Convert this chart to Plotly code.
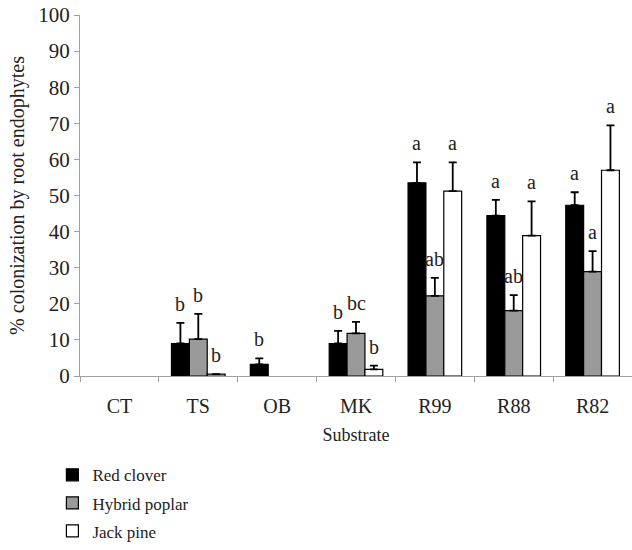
import plotly.graph_objects as go

categories = ["CT", "TS", "OB", "MK", "R99", "R88", "R82"]
series_names = ["Red clover", "Hybrid poplar", "Jack pine"]

red_clover = [None, 9.0, 3.2, 9.0, 53.5, 44.4, 47.3]
red_clover_err = [0, 5.7, 1.7, 3.5, 5.7, 4.4, 3.6]
hybrid_poplar = [None, 10.2, None, 11.8, 22.2, 18.1, 28.9]
hybrid_poplar_err = [0, 7.0, 0, 3.2, 5.0, 4.3, 5.7]
jack_pine = [None, 0.5, None, 1.85, 51.2, 38.9, 57.0]
jack_pine_err = [0, 0, 0, 1.0, 8.0, 9.5, 12.4]

red_clover_letters = ["", "b", "b", "b", "a", "a", "a"]
hybrid_poplar_letters = ["", "b", "", "bc", "ab", "ab", "a"]
jack_pine_letters = ["", "b", "", "b", "a", "a", "a"]

yticks = [0, 10, 20, 30, 40, 50, 60, 70, 80, 90, 100]

FONT = "Liberation Serif, Times New Roman, serif"
TXT = "#222222"
fills = ["#000000", "#9a9a9a", "#ffffff"]

vals = [red_clover, hybrid_poplar, jack_pine]
errs = [red_clover_err, hybrid_poplar_err, jack_pine_err]
letters = [red_clover_letters, hybrid_poplar_letters, jack_pine_letters]

fig = go.Figure()
for i in range(3):
    fig.add_trace(go.Bar(
        x=categories, y=vals[i], name=series_names[i],
        legendgroup=series_names[i],
        marker=dict(color=fills[i], line=dict(color="#000000", width=1.2)),
        error_y=dict(type="data", symmetric=False, array=errs[i],
                     arrayminus=[0] * len(categories),
                     color="#000000", thickness=1.8, width=4),
    ))

bargap = 0.32
bw = (1 - bargap) / 3
annotations = []
for i in range(3):
    off = (i - 1) * bw
    for j, lab in enumerate(letters[i]):
        if not lab:
            continue
        annotations.append(dict(
            x=j + off, y=vals[i][j] + errs[i][j] + 5.3, xref="x", yref="y",
            text=lab, showarrow=False, font=dict(family=FONT, size=20, color=TXT),
            xanchor="center", yanchor="middle"))

fig.update_layout(
    width=632, height=550,
    margin=dict(l=80, r=0, t=15, b=174),
    paper_bgcolor="white", plot_bgcolor="white",
    barmode="group", bargap=bargap, bargroupgap=0,
    font=dict(family=FONT, size=18, color=TXT),
    showlegend=True,
    legend=dict(x=-0.05, xanchor="left", y=-0.225, yanchor="top",
                orientation="v", tracegroupgap=3,
                font=dict(family=FONT, size=17, color=TXT),
                bgcolor="rgba(0,0,0,0)"),
    annotations=annotations,
)
fig.update_xaxes(
    type="category", range=[-0.5, 6.5],
    showline=True, linecolor="#a0a0a0", linewidth=1,
    ticks="outside", tickson="boundaries", ticklen=5, tickcolor="#a0a0a0",
    ticklabelstandoff=12,
    showgrid=False, tickfont=dict(family=FONT, size=20, color=TXT),
    title=dict(text="Substrate", font=dict(family=FONT, size=18, color=TXT), standoff=12),
)
fig.update_yaxes(
    range=[0, 100], tickvals=yticks,
    showline=True, linecolor="#a0a0a0", linewidth=1,
    ticks="outside", ticklen=5, tickcolor="#a0a0a0",
    showgrid=False, zeroline=False,
    tickfont=dict(family=FONT, size=21, color=TXT),
    title=dict(text="% colonization by root endophytes",
               font=dict(family=FONT, size=20, color=TXT), standoff=8),
)

fig.write_html("out.html")
